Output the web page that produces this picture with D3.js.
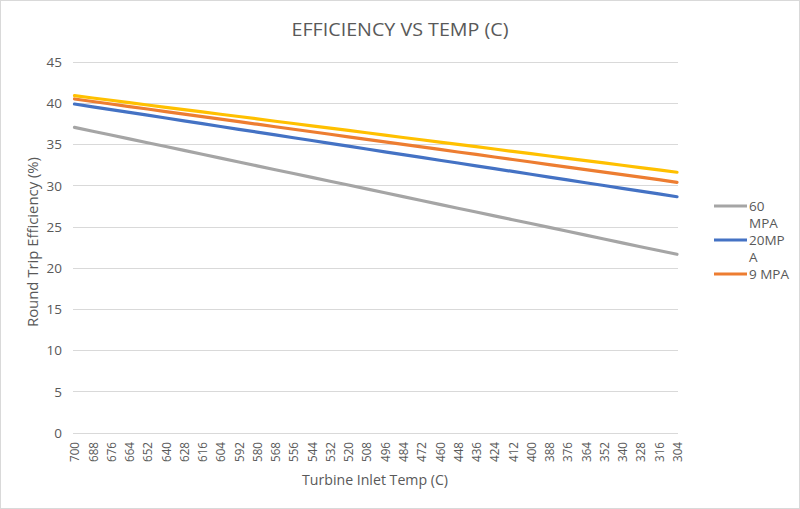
<!DOCTYPE html>
<html><head><meta charset="utf-8">
<script src="https://cdn.jsdelivr.net/npm/d3@7/dist/d3.min.js"></script>
<style>body{margin:0;background:#fff}svg{display:block}text{font-family:"Open Sans",Lato,sans-serif;fill:#595959}</style>
</head><body>
<svg id="c" width="800" height="509"></svg>
<script>
const categories = [700,688,676,664,652,640,628,616,604,592,580,568,556,544,532,520,508,496,484,472,460,448,436,424,412,400,388,376,364,352,340,328,316,304];
const gray60 = [37.04,36.57,36.11,35.64,35.17,34.71,34.24,33.77,33.30,32.84,32.37,31.90,31.44,30.97,30.50,30.04,29.57,29.10,28.63,28.17,27.70,27.23,26.77,26.30,25.83,25.37,24.90,24.43,23.96,23.50,23.03,22.56,22.10,21.64];
const blue20 = [39.87,39.53,39.19,38.85,38.51,38.17,37.82,37.48,37.14,36.80,36.46,36.12,35.78,35.44,35.10,34.76,34.41,34.07,33.73,33.39,33.05,32.71,32.37,32.03,31.69,31.35,31.00,30.66,30.32,29.98,29.64,29.30,28.96,28.62];
const orange9 = [40.48,40.17,39.87,39.56,39.26,38.95,38.64,38.34,38.03,37.73,37.42,37.11,36.81,36.50,36.20,35.89,35.58,35.28,34.97,34.67,34.36,34.05,33.75,33.44,33.14,32.83,32.52,32.22,31.91,31.61,31.30,30.99,30.69,30.37];
const yellow = [40.88,40.60,40.32,40.04,39.75,39.47,39.19,38.91,38.63,38.35,38.07,37.78,37.50,37.22,36.94,36.66,36.38,36.09,35.81,35.53,35.25,34.97,34.69,34.41,34.12,33.84,33.56,33.28,33.00,32.72,32.44,32.15,31.87,31.59];
const seriesNames = ["60 MPA","20MPA","9 MPA","5 MPA"];
const yTicks = [0,5,10,15,20,25,30,35,40,45];

const series = [
  {name: seriesNames[0], values: gray60, color:"#a5a5a5"},
  {name: seriesNames[1], values: blue20, color:"#4472c4"},
  {name: seriesNames[2], values: orange9, color:"#ed7d31"},
  {name: seriesNames[3], values: yellow, color:"#ffc000"}
];

const svg = d3.select("#c");
svg.append("rect").attr("x",0.5).attr("y",0.5).attr("width",799).attr("height",508)
  .attr("fill","#fff").attr("stroke","#d9d9d9");

const x = d3.scalePoint().domain(categories).range([74.5, 677]);
const y = d3.scaleLinear().domain([0,45]).range([432.7, 61.7]);

// gridlines
svg.append("g").selectAll("line").data(yTicks).join("line")
  .attr("x1",73).attr("x2",678).attr("y1",d=>Math.round(y(d))+0.5).attr("y2",d=>Math.round(y(d))+0.5)
  .attr("stroke","#d9d9d9").attr("stroke-width",1);

// y axis labels
const yAxis = d3.axisLeft(y).tickValues(yTicks).tickSize(0).tickPadding(0);
const gy = svg.append("g").attr("transform","translate(62,0)").call(yAxis);
gy.select(".domain").remove();
gy.selectAll("text").style("font-size","13.5px").attr("fill","#595959").attr("dy","0.35em");

// x axis labels
const xAxis = d3.axisBottom(x).tickSize(0).tickPadding(0);
const gx = svg.append("g").attr("transform","translate(0,440)").call(xAxis);
gx.select(".domain").remove();
gx.selectAll("text").style("font-size","12.5px").attr("fill","#595959")
  .attr("transform","rotate(-90)").attr("text-anchor","end").attr("x",-2).attr("y",0).attr("dy","0.35em")
  .attr("textLength",20).attr("lengthAdjust","spacingAndGlyphs");

// lines
const line = d3.line().x((d,i)=>x(categories[i])).y(d=>y(d));
svg.append("g").selectAll("path").data(series).join("path")
  .attr("d",d=>line(d.values)).attr("fill","none").attr("stroke",d=>d.color)
  .attr("stroke-width",3.2).attr("stroke-linecap","round");

// title
svg.append("text").attr("x",400).attr("y",36).attr("text-anchor","middle")
  .style("font-size","19px").attr("textLength",217).attr("lengthAdjust","spacingAndGlyphs")
  .text("EFFICIENCY VS TEMP (C)");

// axis titles
svg.append("text").attr("x",375).attr("y",485).attr("text-anchor","middle")
  .style("font-size","14.5px").attr("textLength",146).attr("lengthAdjust","spacingAndGlyphs")
  .text("Turbine Inlet Temp (C)");
svg.append("text").attr("transform","translate(38,242) rotate(-90)").attr("text-anchor","middle")
  .style("font-size","14.5px").attr("textLength",170).attr("lengthAdjust","spacingAndGlyphs")
  .text("Round Trip Efficiency (%)");

// legend (clipped: only the first three entries are visible)
const legendLines = [
  {s: series[0], lines:["60","MPA"]},
  {s: series[1], lines:["20MP","A"]},
  {s: series[2], lines:["9 MPA"]}
];
let ly = 206;
const lg = svg.append("g");
legendLines.forEach(e=>{
  lg.append("line").attr("x1",714).attr("x2",747).attr("y1",ly).attr("y2",ly)
    .attr("stroke",e.s.color).attr("stroke-width",3.2);
  e.lines.forEach((t,k)=>{
    lg.append("text").attr("x",749).attr("y",ly+k*17).attr("dy","0.35em")
      .style("font-size","13.5px").text(t);
  });
  ly += e.lines.length*17;
});
</script>
</body></html>
